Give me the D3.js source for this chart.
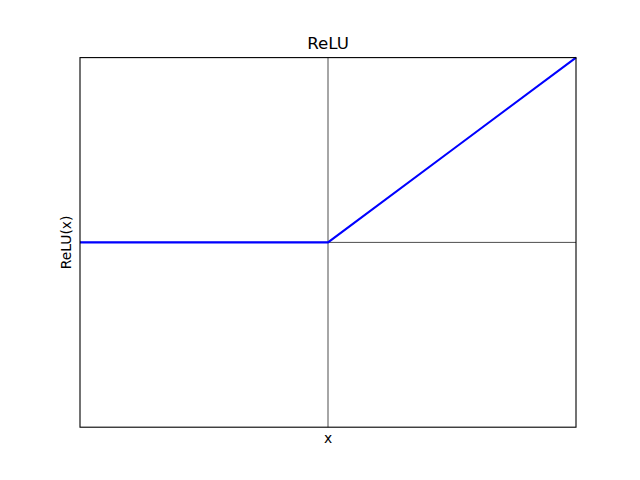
<!DOCTYPE html>
<html><head><meta charset="utf-8">
<script src="https://cdn.jsdelivr.net/npm/d3@7"></script>
<style>body{margin:0;background:#fff}svg{display:block}text{font-family:"DejaVu Sans",sans-serif;fill:#000}</style>
</head><body>
<svg id="c" width="640" height="480"></svg>
<script>
const xs = [-10, -5, 0, 5, 10];
const ys = [0, 0, 0, 5, 10];
const xDomain = [-10, 10];
const yDomain = [-10, 10];
const title = "ReLU";
const xLabel = "x";
const yLabel = "ReLU(x)";

const svg = d3.select("#c");
const L = 80, R = 576, T = 57.6, B = 427.2;
const x = d3.scaleLinear().domain(xDomain).range([L, R]);
const y = d3.scaleLinear().domain(yDomain).range([B, T]);

svg.append("rect").attr("x", L).attr("y", T).attr("width", R - L).attr("height", B - T).attr("fill", "#fff");
// zero lines
svg.append("line").attr("x1", L).attr("x2", R).attr("y1", y(0)).attr("y2", y(0))
  .attr("stroke", "#000").attr("stroke-width", 0.7);
svg.append("line").attr("x1", x(0)).attr("x2", x(0)).attr("y1", T).attr("y2", B)
  .attr("stroke", "#000").attr("stroke-width", 0.7);

const pts = xs.map((v, i) => [v, ys[i]]);
svg.append("path").datum(pts)
  .attr("d", d3.line().x(d => x(d[0])).y(d => y(d[1])))
  .attr("fill", "none").attr("stroke", "#0000ff").attr("stroke-width", 2.08);

svg.append("rect").attr("x", L).attr("y", T).attr("width", R - L).attr("height", B - T)
  .attr("fill", "none").attr("stroke", "#000").attr("stroke-width", 1.1);

svg.append("text").attr("x", (L + R) / 2).attr("y", 49.3).attr("text-anchor", "middle")
  .attr("font-size", "16.67px").text(title);
svg.append("text").attr("x", (L + R) / 2).attr("y", 443).attr("text-anchor", "middle")
  .attr("font-size", "13.89px").text(xLabel);
svg.append("text").attr("transform", `translate(71,${(T + B) / 2}) rotate(-90)`)
  .attr("text-anchor", "middle").attr("font-size", "13.89px").text(yLabel);
</script>
</body></html>
